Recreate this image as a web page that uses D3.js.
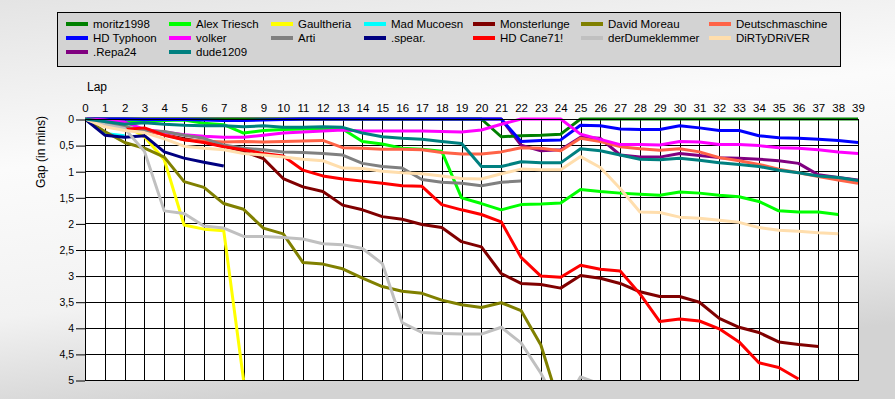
<!DOCTYPE html>
<html>
<head>
<meta charset="utf-8">
<script src="https://cdn.jsdelivr.net/npm/d3@7"></script>
<style>
  html, body { margin: 0; padding: 0; }
  svg { display: block; font-family: "Liberation Sans", Arial, sans-serif; }
</style>
</head>
<body>
<div id="chart"></div>
<script>
// lap numbers along the top
let laps = [0, 1, 2, 3, 4, 5, 6, 7, 8, 9, 10, 11, 12, 13, 14, 15, 16, 17, 18, 19,
  20, 21, 22, 23, 24, 25, 26, 27, 28, 29, 30, 31, 32, 33, 34, 35, 36, 37, 38, 39]
let gapTicks = [0, 0.5, 1, 1.5, 2, 2.5, 3, 3.5, 4, 4.5, 5]

let drivers = ['moritz1998', 'Alex Triesch', 'Gaultheria', 'Mad Mucoesn', 'Monsterlunge', 'David Moreau', 'Deutschmaschine',
  'HD Typhoon', 'volker', 'Arti', '.spear.', 'HD Cane71!', 'derDumeklemmer', 'DiRTyDRiVER',
  '.Repa24', 'dude1209']
let colors = ['#008000', '#00ff00', '#ffff00', '#00ffff', '#800000', '#808000', '#ff6347',
  '#0000ff', '#ff00ff', '#808080', '#000080', '#ff0000', '#c0c0c0', '#ffdead',
  '#800080', '#008080']

// gap in minutes, one value per lap starting at lap 0
let moritz1998 = [0, 0, 0, 0, 0, 0, 0, 0, 0, 0, 0, 0, 0, 0, 0, 0, 0, 0, 0, 0, 0, 0.34, 0.32, 0.31, 0.29, 0, 0, 0, 0, 0, 0, 0, 0, 0, 0, 0, 0, 0, 0, 0]
let alexTriesch = [0, 0.03, 0.06, 0.05, 0.03, 0.02, 0.08, 0.11, 0.27, 0.22, 0.2, 0.19, 0.18, 0.19, 0.43, 0.48, 0.56, 0.58, 0.62, 1.51, 1.62, 1.74, 1.64, 1.63, 1.61, 1.35, 1.39, 1.42, 1.44, 1.46, 1.40, 1.42, 1.46, 1.49, 1.58, 1.76, 1.78, 1.78, 1.83]
let gaultheria = [0, 0.08, 0.12, 0.34, 0.78, 2.03, 2.11, 2.14, 5.0]
let madMucoesn = [0, 0.28, 0.32]
let monsterlunge = [0, 0.12, 0.2, 0.2, 0.3, 0.38, 0.44, 0.52, 0.62, 0.76, 1.14, 1.30, 1.39, 1.65, 1.74, 1.87, 1.92, 2.02, 2.08, 2.35, 2.45, 2.96, 3.15, 3.17, 3.24, 3.00, 3.05, 3.15, 3.31, 3.40, 3.40, 3.51, 3.82, 3.99, 4.09, 4.27, 4.32, 4.36]
let davidMoreau = [0, 0.24, 0.45, 0.56, 0.73, 1.20, 1.31, 1.62, 1.73, 2.09, 2.20, 2.75, 2.78, 2.87, 3.05, 3.21, 3.30, 3.34, 3.47, 3.56, 3.61, 3.52, 3.67, 4.33, 5.55]
let deutschmaschine = [0, 0.12, 0.19, 0.22, 0.3, 0.4, 0.42, 0.44, 0.43, 0.44, 0.43, 0.42, 0.41, 0.55, 0.56, 0.58, 0.58, 0.59, 0.64, 0.67, 0.67, 0.63, 0.55, 0.56, 0.61, 0.37, 0.43, 0.53, 0.57, 0.60, 0.57, 0.63, 0.74, 0.80, 0.87, 0.96, 1.03, 1.10, 1.17, 1.23]
let hdTyphoon = [0, 0, 0, 0.01, 0.01, 0.01, 0.02, 0.03, 0.03, 0.02, 0.01, 0, 0, 0, 0, 0, 0, 0, 0, 0, 0, 0, 0.43, 0.41, 0.40, 0.12, 0.13, 0.19, 0.2, 0.2, 0.13, 0.17, 0.22, 0.22, 0.32, 0.36, 0.37, 0.39, 0.41, 0.45]
let volker = [0, 0.02, 0.06, 0.2, 0.25, 0.3, 0.33, 0.35, 0.35, 0.31, 0.27, 0.25, 0.23, 0.21, 0.23, 0.23, 0.23, 0.23, 0.24, 0.25, 0.21, 0.10, 0, 0, 0, 0.29, 0.39, 0.49, 0.49, 0.50, 0.43, 0.44, 0.49, 0.49, 0.51, 0.55, 0.56, 0.59, 0.63, 0.66]
let arti = [0, 0.09, 0.15, 0.22, 0.24, 0.31, 0.37, 0.5, 0.56, 0.59, 0.63, 0.64, 0.66, 0.69, 0.85, 0.91, 0.94, 1.16, 1.21, 1.23, 1.28, 1.21, 1.19]
let spear = [0, 0.31, 0.35, 0.32, 0.63, 0.75, 0.83, 0.9]
let hdCane71 = [0, 0.12, 0.2, 0.17, 0.31, 0.4, 0.45, 0.53, 0.59, 0.66, 0.71, 0.98, 1.09, 1.15, 1.19, 1.23, 1.28, 1.29, 1.64, 1.74, 1.83, 1.97, 2.65, 3.01, 3.03, 2.80, 2.88, 2.91, 3.35, 3.88, 3.83, 3.87, 4.02, 4.27, 4.67, 4.76, 4.98]
let derDumeklemmer = [0, 0.11, 0.18, 0.62, 1.76, 1.81, 2.05, 2.09, 2.25, 2.25, 2.27, 2.30, 2.39, 2.41, 2.48, 2.77, 3.90, 4.09, 4.11, 4.12, 4.12, 3.99, 4.29, 4.87, 5.6, 4.94, 5.08]
let dirtyDriver = [0, 0.15, 0.22, 0.26, 0.38, 0.52, 0.56, 0.59, 0.66, 0.69, 0.73, 0.77, 0.80, 0.94, 0.95, 1.0, 1.03, 1.05, 1.09, 1.14, 1.15, 1.05, 0.96, 0.97, 0.97, 0.72, 0.93, 1.33, 1.78, 1.79, 1.88, 1.90, 1.94, 1.98, 2.08, 2.13, 2.15, 2.18, 2.20]
let repa24 = [0, 0, 0, 0, 0, 0, 0, 0, 0, 0, 0, 0, 0, 0, 0, 0, 0, 0, 0, 0, 0, 0, 0.50, 0.61, 0.59, 0.35, 0.37, 0.69, 0.73, 0.73, 0.66, 0.70, 0.74, 0.75, 0.77, 0.80, 0.85, 1.07, 1.12, 1.17]
let dude1209 = [0, 0.05, 0.1, 0.07, 0.1, 0.12, 0.13, 0.13, 0.15, 0.13, 0.16, 0.16, 0.15, 0.16, 0.27, 0.34, 0.37, 0.39, 0.43, 0.47, 0.91, 0.91, 0.82, 0.84, 0.84, 0.57, 0.61, 0.69, 0.77, 0.78, 0.75, 0.79, 0.84, 0.87, 0.91, 0.98, 1.03, 1.09, 1.12, 1.18]

let gaps = [moritz1998, alexTriesch, gaultheria, madMucoesn, monsterlunge, davidMoreau, deutschmaschine,
  hdTyphoon, volker, arti, spear, hdCane71, derDumeklemmer, dirtyDriver, repa24, dude1209]

let width = 895,
  height = 399,
  plot = {left: 85, right: 858, top: 119, bottom: 380}

let x = d3.scaleLinear()
  .domain([0, 39])
  .range([plot.left, plot.right])

let y = d3.scaleLinear()
  .domain([0, 5])
  .range([plot.top, plot.bottom])

let svg = d3.select('#chart').append('svg')
  .attr('width', width)
  .attr('height', height)

let defs = svg.append('defs')
let grad = defs.append('linearGradient')
  .attr('id', 'bg')
  .attr('x1', 0).attr('y1', 0)
  .attr('x2', 0.25).attr('y2', 1)
grad.append('stop').attr('offset', 0).attr('stop-color', '#e4e4e4')
grad.append('stop').attr('offset', 0.4).attr('stop-color', '#fbfbfb')
grad.append('stop').attr('offset', 0.75).attr('stop-color', '#f2f2f2')
grad.append('stop').attr('offset', 1).attr('stop-color', '#d3d3d3')

defs.append('clipPath')
  .attr('id', 'clip')
  .append('rect')
  .attr('x', plot.left)
  .attr('y', plot.top - 3)
  .attr('width', plot.right - plot.left)
  .attr('height', plot.bottom - plot.top + 3)

svg.append('rect')
  .attr('width', width)
  .attr('height', height)
  .attr('fill', 'url(#bg)')

// plot area and grid
svg.append('rect')
  .attr('x', plot.left)
  .attr('y', plot.top)
  .attr('width', plot.right - plot.left)
  .attr('height', plot.bottom - plot.top)
  .attr('fill', '#fff')

svg.append('g').selectAll('line')
  .data(laps)
  .enter().append('line')
  .attr('x1', d => Math.round(x(d)) + 0.5)
  .attr('x2', d => Math.round(x(d)) + 0.5)
  .attr('y1', plot.top)
  .attr('y2', plot.bottom)
  .attr('stroke', '#000')

svg.append('g').selectAll('line')
  .data(gapTicks)
  .enter().append('line')
  .attr('x1', plot.left)
  .attr('x2', plot.right)
  .attr('y1', d => Math.round(y(d)) + 0.5)
  .attr('y2', d => Math.round(y(d)) + 0.5)
  .attr('stroke', '#000')

// axes
let xAxis = svg.append('g')
  .attr('transform', 'translate(0,' + (plot.top - 1) + ')')
  .call(d3.axisTop(x).tickValues(laps).tickSize(0).tickPadding(6).tickFormat(d3.format('d')))
xAxis.select('.domain').remove()
xAxis.selectAll('text')
  .attr('font-size', 11.5)
  .attr('font-family', '"Liberation Sans", Arial, sans-serif')
  .attr('fill', '#000')

let yAxis = svg.append('g')
  .attr('transform', 'translate(' + plot.left + ',0.5)')
  .call(d3.axisLeft(y).tickValues(gapTicks).tickSize(9).tickPadding(2)
    .tickFormat(d => String(d).replace('.', ',')))
yAxis.select('.domain').remove()
yAxis.selectAll('line').attr('stroke', '#000')
yAxis.selectAll('text')
  .attr('font-size', 10.5)
  .attr('font-family', '"Liberation Sans", Arial, sans-serif')
  .attr('fill', '#000')

svg.append('text')
  .text('Lap')
  .attr('x', 87)
  .attr('y', 91)
  .attr('font-size', 12)
  .attr('fill', '#000')

svg.append('text')
  .text('Gap (in mins)')
  .attr('transform', 'translate(45,152) rotate(-90)')
  .attr('text-anchor', 'middle')
  .attr('font-size', 12)
  .attr('fill', '#000')

// series lines, .Repa24 and moritz1998 underneath the rest
let line = d3.line()
  .x((d, i) => x(laps[i]))
  .y(d => y(d))

let order = [14, 0, 1, 2, 3, 4, 5, 6, 7, 8, 9, 10, 11, 12, 13, 15]

svg.append('g')
  .attr('clip-path', 'url(#clip)')
  .selectAll('path')
  .data(order)
  .enter().append('path')
  .attr('d', i => line(gaps[i]))
  .attr('fill', 'none')
  .attr('stroke', i => colors[i])
  .attr('stroke-width', 3)
  .attr('stroke-linejoin', 'round')

svg.append('rect')
  .attr('x', plot.left + 0.5)
  .attr('y', plot.top + 0.5)
  .attr('width', plot.right - plot.left)
  .attr('height', plot.bottom - plot.top)
  .attr('fill', 'none')
  .attr('stroke', '#000')

// legend
let legendCols = [93, 196, 298, 391, 500, 608, 736],
  legendRows = [24, 38, 52]

svg.append('rect')
  .attr('x', 57.5)
  .attr('y', 12.5)
  .attr('width', 783)
  .attr('height', 54)
  .attr('fill', '#d3d3d3')
  .attr('stroke', '#000')

let legend = svg.append('g').selectAll('g')
  .data(drivers)
  .enter().append('g')
  .attr('transform', (d, i) => 'translate(' + legendCols[i % 7] + ',' + legendRows[Math.floor(i / 7)] + ')')

legend.append('line')
  .attr('x1', -27)
  .attr('x2', -5)
  .attr('stroke', (d, i) => colors[i])
  .attr('stroke-width', 4)

legend.append('text')
  .text(d => d)
  .attr('dy', '0.35em')
  .attr('font-size', 11.5)
  .attr('fill', '#000')
</script>
</body>
</html>
